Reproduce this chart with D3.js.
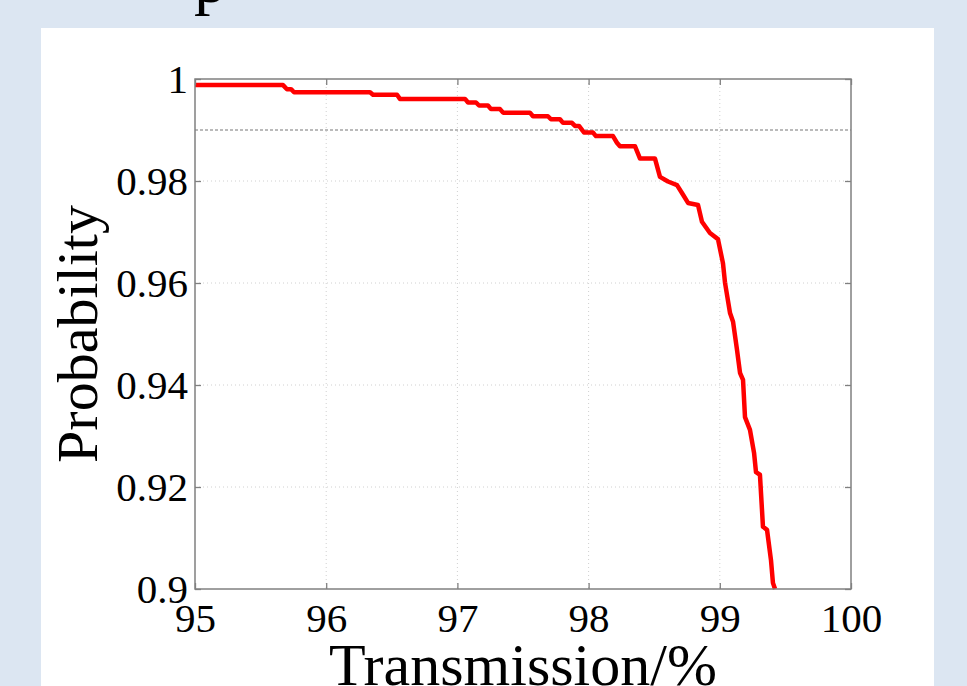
<!DOCTYPE html>
<html>
<head>
<meta charset="utf-8">
<script src="https://cdn.jsdelivr.net/npm/d3@7"></script>
<style>
  html, body { margin: 0; padding: 0; background: #dce6f2; overflow: hidden; }
  svg { display: block; }
</style>
</head>
<body>
<div id="main"></div>
<script>
// curve: transmission (%) vs probability
var transmission = [95.000, 95.671, 95.701, 95.732, 95.755, 96.334, 96.357, 96.540, 96.562, 97.058,
  97.081, 97.142, 97.165, 97.233, 97.256, 97.325, 97.348, 97.553, 97.576, 97.690,
  97.713, 97.782, 97.805, 97.873, 97.896, 97.927, 97.957, 97.965, 98.034, 98.056,
  98.186, 98.216, 98.239, 98.354, 98.392, 98.506, 98.544, 98.605, 98.674, 98.720,
  98.758, 98.834, 98.864, 98.925, 98.986, 99.024, 99.040, 99.078, 99.101, 99.131,
  99.154, 99.177, 99.192, 99.230, 99.261, 99.276, 99.306, 99.329, 99.360, 99.390,
  99.405, 99.421];
var probability = [0.9988, 0.9988, 0.9980, 0.9980, 0.9974, 0.9974, 0.9969, 0.9969, 0.9961, 0.9961,
  0.9954, 0.9954, 0.9948, 0.9948, 0.9941, 0.9941, 0.9934, 0.9934, 0.9927, 0.9927,
  0.9921, 0.9921, 0.9914, 0.9914, 0.9908, 0.9908, 0.9898, 0.9895, 0.9895, 0.9888,
  0.9888, 0.9875, 0.9868, 0.9868, 0.9844, 0.9844, 0.9808, 0.9799, 0.9792, 0.9773,
  0.9757, 0.9753, 0.9720, 0.9698, 0.9686, 0.9639, 0.9600, 0.9541, 0.9524, 0.9469,
  0.9424, 0.9410, 0.9337, 0.9312, 0.9267, 0.9229, 0.9224, 0.9122, 0.9116, 0.9057,
  0.9012, 0.9000];

var xTicks = [95, 96, 97, 98, 99, 100];
var yTicks = [0.9, 0.92, 0.94, 0.96, 0.98, 1];
var yTickLabels = ['0.9', '0.92', '0.94', '0.96', '0.98', '1'];
var threshold = [0.99];

var W = 967, H = 686;
var plot = {left: 195, top: 79, right: 851, bottom: 589};
var serif = '"Liberation Serif", "Times New Roman", serif';

var svg = d3.select('#main').append('svg')
	.attr('width', W)
	.attr('height', H);

// white panel
svg.append('rect')
	.attr('x', 41).attr('y', 28)
	.attr('width', 893).attr('height', H - 28)
	.attr('fill', '#fff');

// cut off title at the top
svg.append('text')
	.attr('x', 194).attr('y', 2)
	.style('font-family', serif)
	.style('font-size', '66px')
	.attr('fill', '#000')
	.text('p');

var x = d3.scaleLinear().domain([95, 100]).range([plot.left, plot.right]);
var y = d3.scaleLinear().domain([0.9, 1]).range([plot.bottom, plot.top]);

// grid
var grid = svg.append('g').attr('class', 'grid');
grid.selectAll('line.gx')
	.data(xTicks.slice(1, -1))
	.enter().append('line')
	.attr('x1', function(d){ return x(d); })
	.attr('x2', function(d){ return x(d); })
	.attr('y1', plot.top).attr('y2', plot.bottom)
	.attr('stroke', '#d0d0d0').attr('stroke-width', 1)
	.attr('stroke-dasharray', '1,3');
grid.selectAll('line.gy')
	.data(yTicks.slice(1, -1))
	.enter().append('line')
	.attr('x1', plot.left).attr('x2', plot.right)
	.attr('y1', function(d){ return y(d); })
	.attr('y2', function(d){ return y(d); })
	.attr('stroke', '#d0d0d0').attr('stroke-width', 1)
	.attr('stroke-dasharray', '1,3');

// 0.99 reference line
svg.selectAll('line.ref')
	.data(threshold)
	.enter().append('line')
	.attr('x1', plot.left).attr('x2', plot.right)
	.attr('y1', function(d){ return y(d); })
	.attr('y2', function(d){ return y(d); })
	.attr('stroke', '#777').attr('stroke-width', 1.2)
	.attr('stroke-dasharray', '3,2');

// curve
var pts = transmission.map(function(t, i){ return [t, probability[i]]; });
svg.append('path')
	.datum(pts)
	.attr('fill', 'none')
	.attr('stroke', '#ff0000')
	.attr('stroke-width', 4.5)
	.attr('stroke-linejoin', 'round')
	.attr('d', d3.line()
		.x(function(d){ return x(d[0]); })
		.y(function(d){ return y(d[1]); }));

// axes with inside ticks
var axisStyle = function(g){
	g.select('.domain').remove();
	g.selectAll('.tick line').attr('stroke', '#808080').attr('stroke-width', 1.3);
	g.selectAll('.tick text')
		.style('font-family', serif)
		.style('font-size', '41px')
		.attr('fill', '#000');
};

svg.append('g')
	.attr('transform', 'translate(0,' + plot.bottom + ')')
	.call(d3.axisBottom(x).tickValues(xTicks).tickSizeInner(-6).tickSizeOuter(0).tickPadding(14).tickFormat(d3.format('d')))
	.call(axisStyle);

svg.append('g')
	.attr('transform', 'translate(0,' + plot.top + ')')
	.call(d3.axisTop(x).tickValues(xTicks).tickSizeInner(-6).tickSizeOuter(0).tickFormat(''))
	.call(axisStyle);

svg.append('g')
	.attr('transform', 'translate(' + plot.left + ',0)')
	.call(d3.axisLeft(y).tickValues(yTicks).tickSizeInner(-6).tickSizeOuter(0).tickPadding(7)
		.tickFormat(function(d, i){ return yTickLabels[i]; }))
	.call(axisStyle);

svg.append('g')
	.attr('transform', 'translate(' + plot.right + ',0)')
	.call(d3.axisRight(y).tickValues(yTicks).tickSizeInner(-6).tickSizeOuter(0).tickFormat(''))
	.call(axisStyle);

// box
svg.append('rect')
	.attr('x', plot.left).attr('y', plot.top)
	.attr('width', plot.right - plot.left).attr('height', plot.bottom - plot.top)
	.attr('fill', 'none')
	.attr('stroke', '#808080').attr('stroke-width', 1.5);

// axis labels
svg.append('text')
	.attr('x', (plot.left + plot.right) / 2).attr('y', 685)
	.attr('text-anchor', 'middle')
	.style('font-family', serif)
	.style('font-size', '60px')
	.text('Transmission/%');

svg.append('text')
	.attr('transform', 'translate(97,' + ((plot.top + plot.bottom) / 2) + ') rotate(-90)')
	.attr('text-anchor', 'middle')
	.style('font-family', serif)
	.style('font-size', '58px')
	.text('Probability');
</script>
</body>
</html>
